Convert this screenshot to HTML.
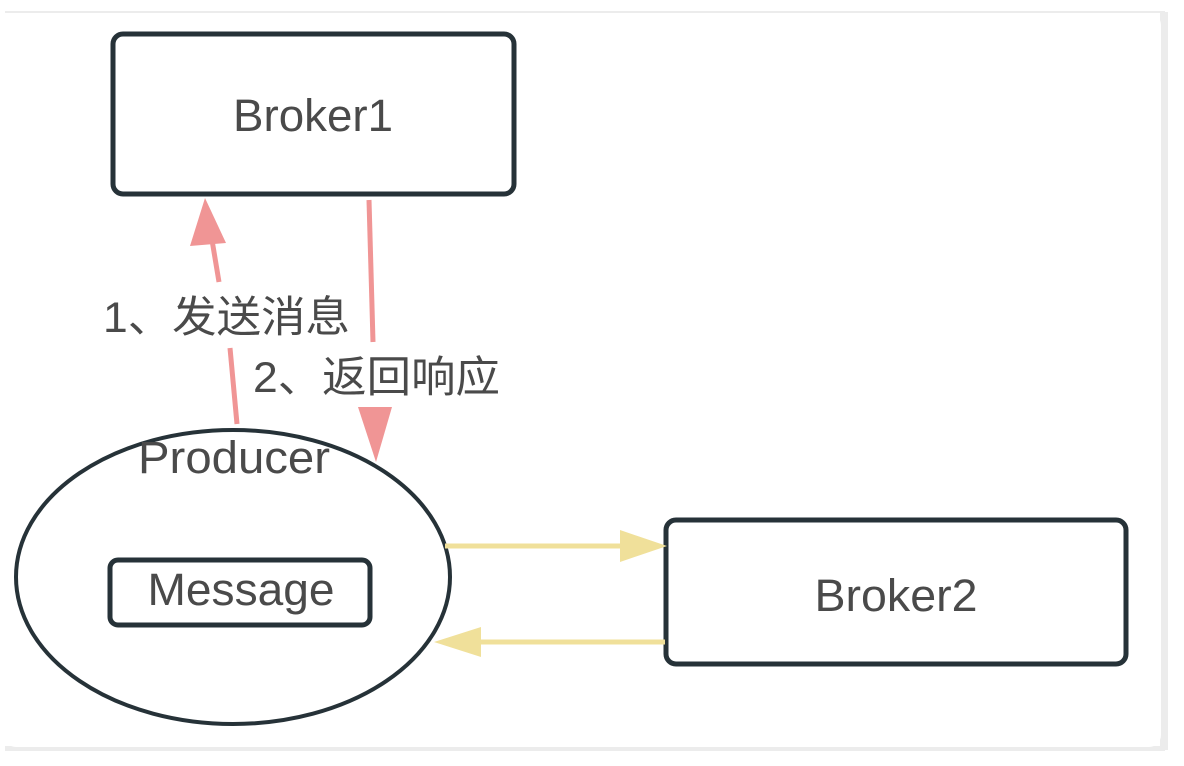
<!DOCTYPE html>
<html><head><meta charset="utf-8"><style>
html,body{margin:0;padding:0;background:#fff;width:1184px;height:766px;overflow:hidden}
svg{display:block}
text{font-family:"Liberation Sans","Noto Sans CJK SC",sans-serif;fill:#4a4a4a}
</style></head><body>
<svg width="1184" height="766" viewBox="0 0 1184 766">
<rect x="0" y="0" width="1184" height="766" fill="#fff"/>
<rect x="1160" y="12" width="8" height="738" fill="#ececec"/>
<rect x="5" y="746" width="1160" height="5" fill="#ececec"/>
<rect x="5" y="11" width="1160" height="2" fill="#ececec"/>
<rect x="4" y="13" width="1157" height="734" rx="12" fill="#fff"/>
<!-- Broker1 -->
<rect x="113" y="34" width="401" height="160" rx="10" fill="#fff" stroke="#263238" stroke-width="5"/>
<text x="313" y="131" font-size="45" text-anchor="middle" textLength="160" lengthAdjust="spacingAndGlyphs">Broker1</text>
<!-- Producer ellipse -->
<ellipse cx="233" cy="577" rx="217" ry="147" fill="#fff" stroke="#263238" stroke-width="4"/>
<text x="234" y="473" font-size="45" text-anchor="middle" textLength="192" lengthAdjust="spacingAndGlyphs">Producer</text>
<rect x="110" y="560" width="260" height="65" rx="8" fill="#fff" stroke="#263238" stroke-width="5"/>
<text x="241" y="605" font-size="45" text-anchor="middle" textLength="187" lengthAdjust="spacingAndGlyphs">Message</text>
<!-- Broker2 -->
<rect x="666" y="520" width="460" height="144" rx="10" fill="#fff" stroke="#263238" stroke-width="5"/>
<text x="896" y="611" font-size="45" text-anchor="middle" textLength="163" lengthAdjust="spacingAndGlyphs">Broker2</text>
<!-- red arrows -->
<line x1="237" y1="424" x2="230" y2="348" stroke="#f09595" stroke-width="5"/>
<line x1="219" y1="282" x2="212" y2="240" stroke="#f09595" stroke-width="5"/>
<polygon points="205,198 190,246 226,243" fill="#f09595"/>
<line x1="369" y1="200" x2="373" y2="342" stroke="#f09595" stroke-width="5"/>
<polygon points="376,462 358,407 392,407" fill="#f09595"/>
<text x="103" y="332" font-size="43" textLength="247" lengthAdjust="spacingAndGlyphs">1、发送消息</text>
<text x="253" y="392" font-size="43" textLength="247" lengthAdjust="spacingAndGlyphs">2、返回响应</text>
<!-- yellow arrows -->
<line x1="445" y1="546" x2="625" y2="546" stroke="#f0e09a" stroke-width="5"/>
<polygon points="667,546 620,530 620,562" fill="#f0e09a"/>
<line x1="665" y1="642" x2="470" y2="642" stroke="#f0e09a" stroke-width="5"/>
<polygon points="434,642 481,627 481,657" fill="#f0e09a"/>
</svg>
</body></html>
